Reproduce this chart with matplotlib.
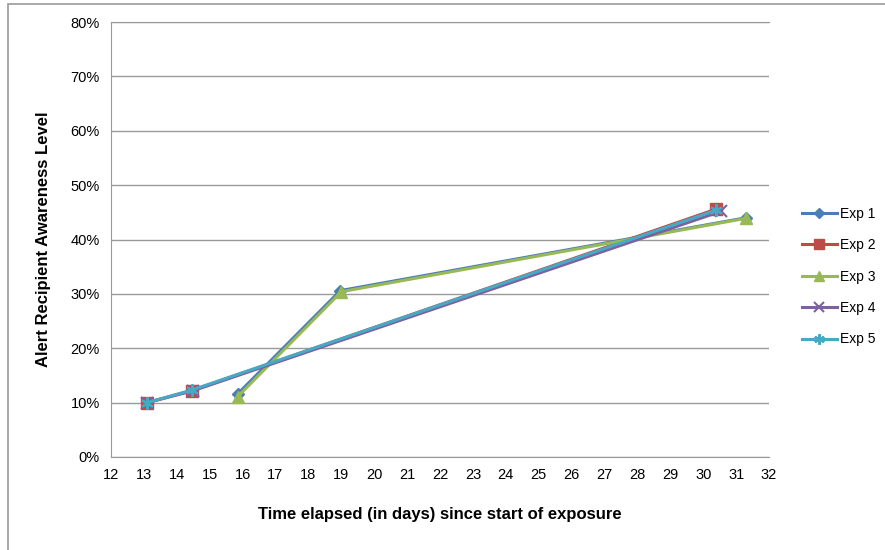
import matplotlib.pyplot as plt
from matplotlib.patches import Rectangle
from matplotlib.ticker import PercentFormatter

plt.rcParams['font.family'] = ['Liberation Sans', 'DejaVu Sans']

# series data (days, awareness %)
exp1_x = [15.85, 18.97, 31.3]
exp1_y = [11.6, 30.6, 44.0]
exp2_x = [13.1, 14.45, 30.4]
exp2_y = [10.0, 12.2, 45.6]
exp3_x = [15.85, 19.0, 31.3]
exp3_y = [11.1, 30.4, 43.9]
exp4_x = [13.1, 14.5, 30.55]
exp4_y = [10.0, 12.2, 45.2]
exp5_x = [13.1, 14.45, 30.4]
exp5_y = [10.0, 12.3, 45.4]

x_ticks = list(range(12, 33))
y_ticks = list(range(0, 81, 10))

fig = plt.figure(figsize=(8.85, 5.5), dpi=100)
ax = fig.add_axes([111/885, 1 - 457/550, (769 - 111)/885, (457 - 22)/550])

# chart area border (cropped on right/bottom)
fig.patches.append(Rectangle((8/885, -0.1), 1.2, 1 - 4/550 + 0.1, transform=fig.transFigure,
                             fill=False, edgecolor='#9a9a9a', linewidth=1.2))

ax.plot(exp1_x, exp1_y, color='#4a7ebb', marker='D', markersize=6, lw=2.2, label='Exp 1')
ax.plot(exp2_x, exp2_y, color='#be4b48', marker='s', markersize=8, lw=2.2, label='Exp 2')
ax.plot(exp3_x, exp3_y, color='#98b954', marker='^', markersize=8, lw=2.2, label='Exp 3')
ax.plot(exp4_x, exp4_y, color='#7d60a0', marker='x', markersize=8, mew=1.5, lw=2.2, label='Exp 4')
ax.plot(exp5_x, exp5_y, color='#46aac5', marker=(6, 2, 0), markersize=9, mew=1.5, lw=2.2, label='Exp 5')

ax.set_xlim(12, 32)
ax.set_ylim(0, 80)
ax.set_xticks(x_ticks)
ax.set_yticks(y_ticks)
ax.yaxis.set_major_formatter(PercentFormatter(decimals=0))
ax.tick_params(length=0, labelsize=10.5, pad=8)
ax.grid(axis='y', color='#9a9a9a', lw=1)
ax.set_axisbelow(True)
for s in ['left', 'top', 'bottom']:
    ax.spines[s].set_color('#9a9a9a')
ax.spines['right'].set_visible(False)

ax.set_xlabel('Time elapsed (in days) since start of exposure', fontsize=12, fontweight='bold', labelpad=18)
ax.set_ylabel('Alert Recipient Awareness Level', fontsize=12, fontweight='bold', labelpad=14)

h, l = ax.get_legend_handles_labels()
fig.legend(h, l, loc='upper left', bbox_to_anchor=(802/885, 1 - 207/550), frameon=False,
           fontsize=10, handlelength=2.5, labelspacing=1.25, handletextpad=0.2,
           borderpad=0, borderaxespad=0, markerscale=0.85)

fig.savefig('out.png', dpi=100)
